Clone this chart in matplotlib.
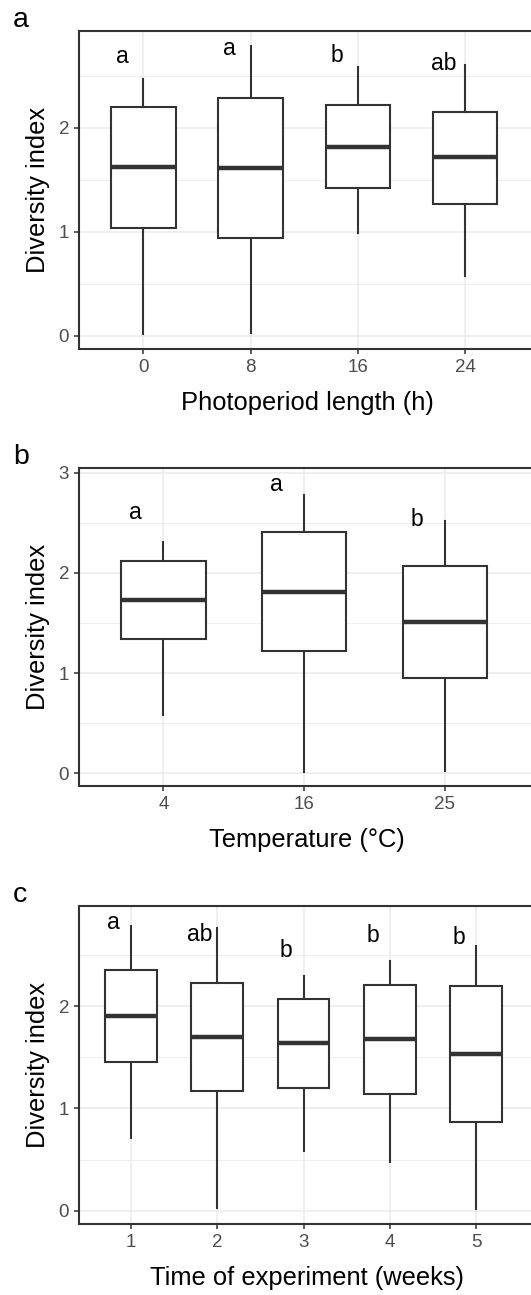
import numpy as np
import matplotlib.pyplot as plt
from matplotlib.ticker import MultipleLocator

plt.rcParams['font.family'] = ['Liberation Sans', 'DejaVu Sans']

# Panel a: photoperiod length (h)
photo_labels = ["0", "8", "16", "24"]
photo_whislo = [0.016, 0.025, 0.985, 0.58]
photo_q1 = [1.04, 0.945, 1.42, 1.265]
photo_med = [1.625, 1.615, 1.82, 1.715]
photo_q3 = [2.20, 2.29, 2.22, 2.15]
photo_whishi = [2.47, 2.79, 2.58, 2.60]
photo_letters = ["a", "a", "b", "ab"]
photo_letter_y = [2.62, 2.70, 2.63, 2.56]

# Panel b: temperature (°C)
temp_labels = ["4", "16", "25"]
temp_whislo = [0.58, 0.016, 0.026]
temp_q1 = [1.34, 1.22, 0.955]
temp_med = [1.73, 1.81, 1.51]
temp_q3 = [2.12, 2.41, 2.07]
temp_whishi = [2.305, 2.78, 2.515]
temp_letters = ["a", "a", "b"]
temp_letter_y = [2.535, 2.82, 2.47]

# Panel c: time of experiment (weeks)
week_labels = ["1", "2", "3", "4", "5"]
week_whislo = [0.715, 0.023, 0.585, 0.48, 0.013]
week_q1 = [1.455, 1.165, 1.195, 1.145, 0.87]
week_med = [1.90, 1.695, 1.635, 1.68, 1.53]
week_q3 = [2.35, 2.22, 2.07, 2.21, 2.20]
week_whishi = [2.78, 2.76, 2.29, 2.435, 2.59]
week_letters = ["a", "ab", "b", "b", "b"]
week_letter_y = [2.754, 2.636, 2.48, 2.63, 2.61]

dark = "#333333"
grid_col = "#EBEBEB"


def panel(ax, labels, lo, q1, med, q3, hi, letters, ly, ylim, xmax, xlabel, tag):
    stats = [dict(whislo=a, q1=b, med=c, q3=d, whishi=e, fliers=[])
             for a, b, c, d, e in zip(lo, q1, med, q3, hi)]
    pos = np.arange(1, len(labels) + 1)
    ax.bxp(stats, positions=pos, widths=0.6, showcaps=False, patch_artist=True,
           boxprops=dict(facecolor="white", edgecolor=dark, linewidth=1.5),
           medianprops=dict(color=dark, linewidth=3.2, solid_capstyle="butt"),
           whiskerprops=dict(color=dark, linewidth=1.5), zorder=3)
    for p, t, y in zip(pos, letters, ly):
        ax.text(p - 0.2, y, t, ha="center", va="baseline", fontsize=16.5, color="black")
    ax.set_xlim(0.4, xmax)
    ax.set_ylim(*ylim)
    ax.set_xticks(pos)
    ax.set_xticklabels(labels)
    ax.yaxis.set_major_locator(MultipleLocator(1))
    ax.yaxis.set_minor_locator(MultipleLocator(0.5))
    ax.grid(which="major", color=grid_col, linewidth=1.1, zorder=0)
    ax.grid(which="minor", axis="y", color=grid_col, linewidth=0.6, zorder=0)
    ax.set_axisbelow(True)
    ax.tick_params(which="major", length=3.6, width=1.1, color=dark,
                   labelsize=13.5, labelcolor="#4D4D4D", pad=3.5)
    ax.tick_params(which="minor", length=0)
    for s in ax.spines.values():
        s.set_color(dark)
        s.set_linewidth(1.5)
    ax.set_ylabel("Diversity index", fontsize=18.4, labelpad=6)
    ax.set_xlabel(xlabel, fontsize=18.4, labelpad=11)
    ax.text(-0.145, 1 + 11 / 318, tag, transform=ax.transAxes, fontsize=20.5,
            ha="left", va="center")


fig = plt.figure(figsize=(5.31, 12.95), dpi=100)
W, H = 531.0, 1295.0
left, right = 79 / W, 535 / W

ax1 = fig.add_axes([left, (H - 349) / H, right - left, 318 / H])
panel(ax1, photo_labels, photo_whislo, photo_q1, photo_med, photo_q3, photo_whishi,
      photo_letters, photo_letter_y, (-0.125, 2.93), 4.65, "Photoperiod length (h)", "a")

ax2 = fig.add_axes([left, (H - 786) / H, right - left, 318.3 / H])
panel(ax2, temp_labels, temp_whislo, temp_q1, temp_med, temp_q3, temp_whishi,
      temp_letters, temp_letter_y, (-0.127, 3.05), 3.64, "Temperature (°C)", "b")

ax3 = fig.add_axes([left, (H - 1224) / H, right - left, 318.3 / H])
panel(ax3, week_labels, week_whislo, week_q1, week_med, week_q3, week_whishi,
      week_letters, week_letter_y, (-0.13, 2.98), 5.68, "Time of experiment (weeks)", "c")

fig.savefig("out.png", dpi=100)
